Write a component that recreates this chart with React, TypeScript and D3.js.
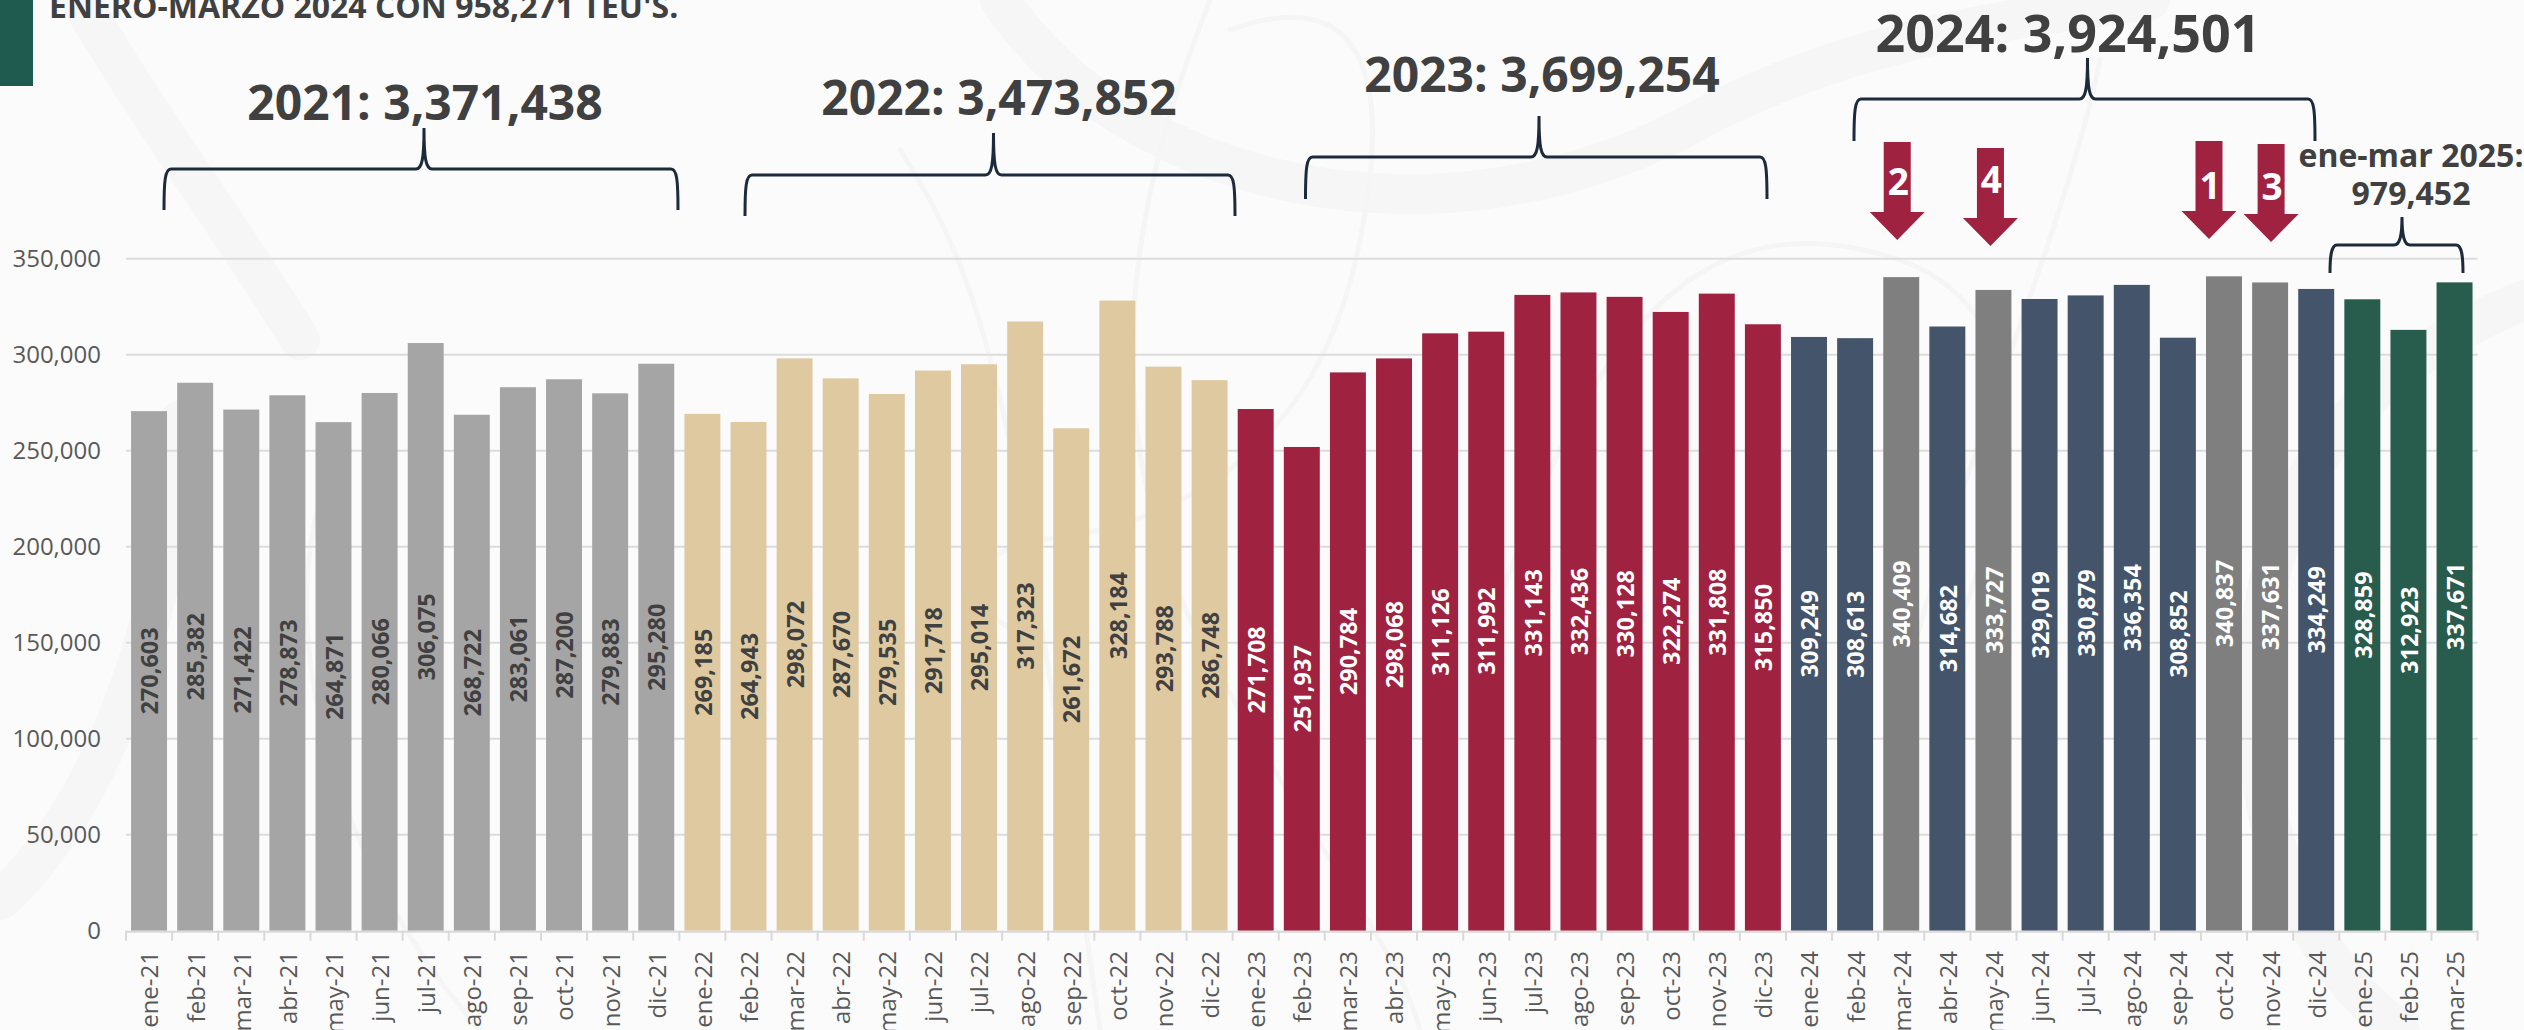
import React from "react";
import * as d3 from "d3";

const months = ["ene", "feb", "mar", "abr", "may", "jun", "jul", "ago", "sep", "oct", "nov", "dic"];
const values2021 = [270603, 285382, 271422, 278873, 264871, 280066, 306075, 268722, 283061, 287200, 279883, 295280];
const values2022 = [269185, 264943, 298072, 287670, 279535, 291718, 295014, 317323, 261672, 328184, 293788, 286748];
const values2023 = [271708, 251937, 290784, 298068, 311126, 311992, 331143, 332436, 330128, 322274, 331808, 315850];
const values2024 = [309249, 308613, 340409, 314682, 333727, 329019, 330879, 336354, 308852, 340837, 337631, 334249];
const values2025 = [328859, 312923, 337671];
const yTicks = [0, 50000, 100000, 150000, 200000, 250000, 300000, 350000];
const highlighted2024 = ["mar-24", "may-24", "oct-24", "nov-24"];

const yearGroups = [
  { yy: "21", values: values2021, fill: "#a5a5a5", text: "#404040" },
  { yy: "22", values: values2022, fill: "#dec9a1", text: "#404040" },
  { yy: "23", values: values2023, fill: "#9f2241", text: "#ffffff" },
  { yy: "24", values: values2024, fill: "#44546a", text: "#ffffff" },
  { yy: "25", values: values2025, fill: "#285c4d", text: "#ffffff" },
];

const rows = yearGroups.flatMap((g) =>
  g.values.map((v, i) => {
    const label = `${months[i]}-${g.yy}`;
    return {
      label,
      value: v,
      fill: highlighted2024.includes(label) ? "#7f7f7f" : g.fill,
      text: g.text,
    };
  })
);

const FONT = '"Open Sans", "Noto Sans", sans-serif';
const x = d3.scaleBand<string>().domain(rows.map((r) => r.label)).range([126, 2477.6]).paddingInner(0.22).paddingOuter(0.11);
const y = d3.scaleLinear().domain([0, 350000]).range([930.7, 258.7]);
const fmt = d3.format(",");
const step = x.step();
const tickEdges = d3.range(rows.length + 1).map((i) => 126 + i * step);

const braces = [
  { x0: 164, x1: 678, c: 424, top: 169, bot: 210, tip: 128 },
  { x0: 745, x1: 1235, c: 993.5, top: 175, bot: 216, tip: 133 },
  { x0: 1305.5, x1: 1767, c: 1539, top: 157, bot: 199, tip: 116 },
  { x0: 1854, x1: 2315, c: 2087.5, top: 99, bot: 141, tip: 58 },
  { x0: 2330, x1: 2463, c: 2402, top: 245, bot: 273, tip: 217 },
];
const titles = [
  { t: "2021: 3,371,438", x: 425, y: 120, s: 48 },
  { t: "2022: 3,473,852", x: 999, y: 115, s: 48 },
  { t: "2023: 3,699,254", x: 1542, y: 92, s: 48 },
  { t: "2024: 3,924,501", x: 2068, y: 52, s: 52 },
  { t: "ene-mar 2025:", x: 2411, y: 167, s: 32 },
  { t: "979,452", x: 2411, y: 205, s: 32 },
];
const arrows = [
  { n: "2", at: "mar-24", dx: -4, top: 142, numY: 182 },
  { n: "4", at: "may-24", dx: -3, top: 148, numY: 180 },
  { n: "1", at: "oct-24", dx: -15, top: 141, numY: 186 },
  { n: "3", at: "nov-24", dx: 1, top: 144, numY: 187 },
];
const watermark = [
  "M80 0 C150 120 240 240 300 340",
  "M1000 0 C1120 180 1420 260 1680 130 C1840 40 2000 20 2150 0",
  "M2524 300 C2330 380 2240 520 2260 760 C2270 880 2330 980 2400 1030",
  "M0 900 C90 820 170 640 180 420",
];
const watermarkThin = [
  "M1210 0 C1130 200 1090 420 1200 640 C1320 860 1400 950 1420 1030",
  "M1230 30 C1340 -10 1400 40 1360 240 C1330 400 1230 520 1040 540 C960 550 960 620 1040 640",
  "M900 150 C1000 300 1020 460 1100 1030",
  "M1500 600 C1600 300 1720 200 1900 260 C2010 300 2040 420 1960 620",
  "M320 500 C280 640 330 860 480 1030",
  "M2100 60 C2060 250 1960 460 1900 700",
];

function bracePath(b: (typeof braces)[number]) {
  return `M${b.x0} ${b.bot} C${b.x0} ${b.top + 12} ${b.x0 + 1} ${b.top} ${b.x0 + 7} ${b.top} L${b.c - 8} ${b.top} C${b.c - 2} ${b.top} ${b.c} ${b.top - 10} ${b.c} ${b.tip} C${b.c} ${b.top - 10} ${b.c + 2} ${b.top} ${b.c + 8} ${b.top} L${b.x1 - 7} ${b.top} C${b.x1 - 1} ${b.top} ${b.x1} ${b.top + 12} ${b.x1} ${b.bot}`;
}

export default function App() {
  return (
    <svg width={2524} height={1030} viewBox="0 0 2524 1030" style={{ position: "fixed", left: 0, top: 0, background: "#fbfbfb", fontFamily: FONT }}>
      <g fill="none" stroke="#f6f6f6" strokeWidth={40} strokeLinecap="round">
        {watermark.map((d, i) => <path key={i} d={d} />)}
      </g>
      <g fill="none" stroke="#f5f5f5" strokeWidth={5} strokeLinecap="round">
        {watermarkThin.map((d, i) => <path key={i} d={d} />)}
      </g>
      <rect x={0} y={0} width={33} height={86} fill="#1f5c4f" />
      <text x={49} y={18} fontSize={32} fontWeight={700} fill="#404040">ENERO-MARZO 2024 CON 958,271 TEU'S.</text>

      {yTicks.filter((t) => t > 0).map((t) => (
        <line key={t} x1={126} x2={2477.6} y1={y(t)} y2={y(t)} stroke="#dcdcdc" strokeWidth={2} />
      ))}
      {yTicks.map((t) => (
        <text key={t} x={101} y={y(t)} dy="0.35em" textAnchor="end" fontSize={24} fill="#595959">{fmt(t)}</text>
      ))}

      {rows.map((r) => (
        <rect key={r.label} x={x(r.label)} y={y(r.value)} width={x.bandwidth()} height={y(0) - y(r.value)} fill={r.fill} />
      ))}

      <line x1={126} x2={2477.6} y1={y(0) + 1} y2={y(0) + 1} stroke="#d9d9d9" strokeWidth={2} />
      {tickEdges.map((e, i) => (
        <line key={i} x1={e} x2={e} y1={y(0)} y2={y(0) + 10} stroke="#d9d9d9" strokeWidth={2} />
      ))}

      {rows.map((r) => {
        const cx = (x(r.label) as number) + x.bandwidth() / 2;
        return (
          <g key={r.label}>
            <text transform={`translate(${cx + 1},${y(r.value / 2)}) rotate(-90)`} textAnchor="middle" dy="0.35em" fontSize={23.5} fontWeight={700} fill={r.text}>{fmt(r.value)}</text>
            <text transform={`translate(${cx + 1},951) rotate(-90)`} textAnchor="end" dy="0.35em" fontSize={24} fill="#595959">{r.label}</text>
          </g>
        );
      })}

      <g fill="none" stroke="#1d2a3c" strokeWidth={3}>
        {braces.map((b, i) => <path key={i} d={bracePath(b)} />)}
      </g>
      {titles.map((t) => (
        <text key={t.t} x={t.x} y={t.y} textAnchor="middle" fontSize={t.s} fontWeight={700} fill="#404040">{t.t}</text>
      ))}
      {arrows.map((a) => {
        const c = (x(a.at) as number) + x.bandwidth() / 2 + a.dx;
        const h = a.top + 70;
        return (
          <g key={a.n}>
            <path d={`M${c - 13.5} ${a.top} H${c + 13.5} V${h} H${c + 27.5} L${c} ${h + 28} L${c - 27.5} ${h} H${c - 13.5} Z`} fill="#9f2241" />
            <text x={c + 1} y={a.numY} dy="0.35em" textAnchor="middle" fontSize={37} fontWeight={700} fill="#ffffff">{a.n}</text>
          </g>
        );
      })}
    </svg>
  );
}
